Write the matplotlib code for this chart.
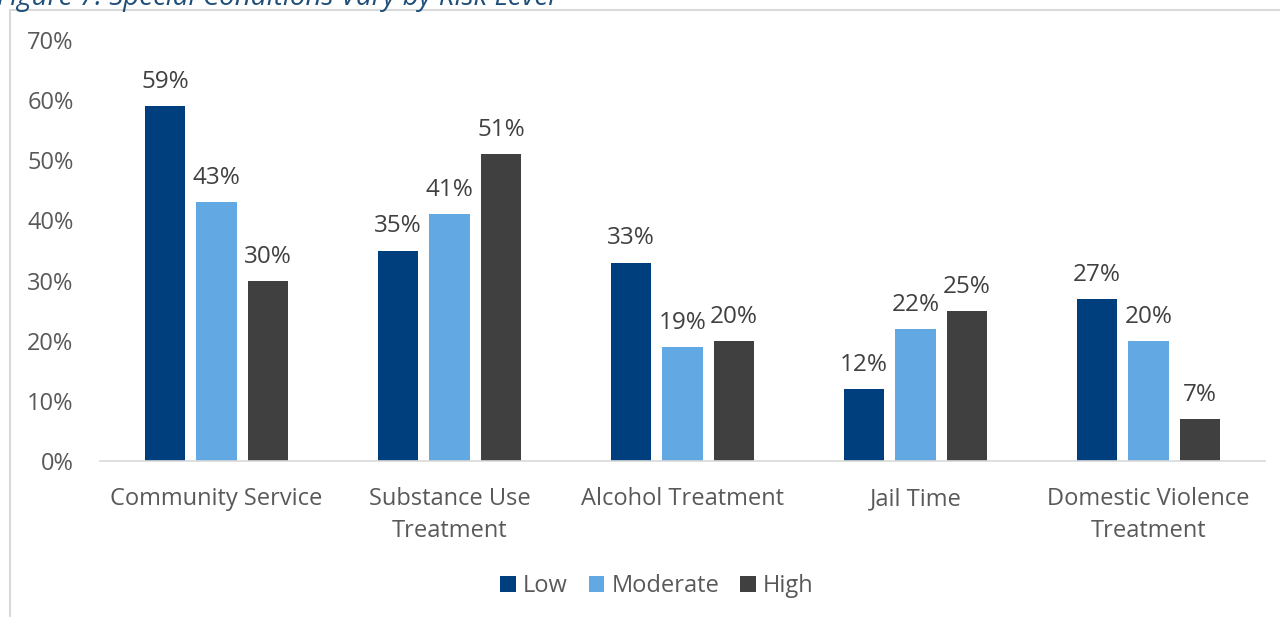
import numpy as np
import matplotlib.pyplot as plt
from matplotlib.patches import Rectangle

categories = ['Community Service', 'Substance Use\nTreatment', 'Alcohol Treatment',
              'Jail Time', 'Domestic Violence\nTreatment']
low = [59, 35, 33, 12, 27]
moderate = [43, 41, 19, 22, 20]
high = [30, 51, 20, 25, 7]
series_names = ['Low', 'Moderate', 'High']
colors = ['#003F7D', '#62A8E3', '#404040']
yticks = [0, 10, 20, 30, 40, 50, 60, 70]

plt.rcParams['font.family'] = ['Open Sans', 'DejaVu Sans']
txt = '#595959'
fs = 17

fig = plt.figure(figsize=(12.8, 6.17), dpi=100)
# marco gris del gráfico
fig.patches.append(Rectangle((10 / 1280, -0.01), 1.1, 1 - 10 / 617 + 0.01,
                             transform=fig.transFigure, fill=False,
                             edgecolor='#D9D9D9', linewidth=1.5))
fig.text(-0.002, 1 - 5 / 617, 'Figure 7: Special Conditions Vary by Risk Level',
         fontsize=20, style='italic', color='#1F4E79', va='baseline')

ax = fig.add_axes([100 / 1280, 1 - 461 / 617, 1165 / 1280, 421 / 617])
x = np.arange(len(categories))
w = 0.172
step = 0.221
for i, (vals, name) in enumerate(zip([low, moderate, high], series_names)):
    pos = x + (i - 1) * step
    ax.bar(pos, vals, width=w, color=colors[i], label=name)
    for p, v in zip(pos, vals):
        ax.text(p, v + 2, f'{v}%', ha='center', va='bottom', fontsize=17.5, color='#404040')

ax.set_xlim(-0.5, len(categories) - 0.5)
ax.set_ylim(0, 70)
ax.set_yticks(yticks)
ax.set_yticklabels([f'{t}%' for t in yticks], fontsize=fs, color=txt)
ax.set_xticks(x)
ax.set_xticklabels(categories, fontsize=fs, color=txt, linespacing=1.4)
ax.tick_params(axis='both', length=0)
ax.tick_params(axis='y', pad=19)
ax.tick_params(axis='x', pad=19)
for s in ['top', 'right', 'left']:
    ax.spines[s].set_visible(False)
ax.spines['bottom'].set_color('#D9D9D9')
ax.spines['bottom'].set_linewidth(1.2)

leg = fig.legend(loc='center', bbox_to_anchor=(657 / 1280, 1 - 586 / 617), ncol=3,
                 frameon=False, fontsize=fs, handlelength=0.65, handleheight=0.65,
                 handletextpad=0.3, columnspacing=0.9)
for t in leg.get_texts():
    t.set_color(txt)

fig.savefig('out.png', dpi=100)
